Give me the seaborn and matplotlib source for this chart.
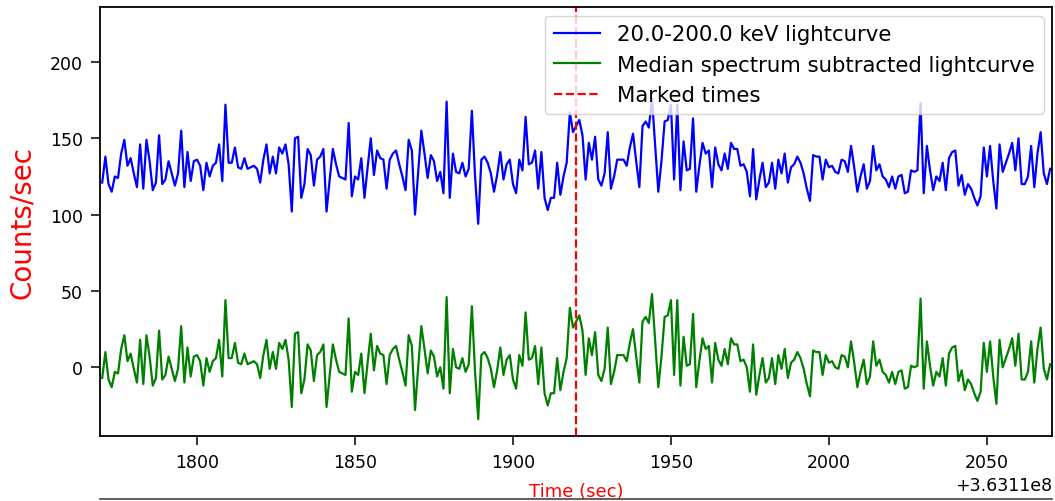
import numpy as np
import pandas as pd
import matplotlib
matplotlib.use("Agg")
import matplotlib.pyplot as plt
from matplotlib.lines import Line2D
import seaborn as sns

# ---- data ----
time_start = 363111770          # first bin time (sec)
time_offset = 363110000         # axis offset shown as +3.6311e8
marked_time = 363111920

lightcurve_counts = [
    121, 138, 120, 115, 125, 124, 140, 149, 132, 137,
    127, 118, 146, 117, 149, 135, 116, 121, 152, 120,
    123, 135, 127, 119, 127, 155, 118, 141, 122, 135,
    136, 132, 116, 134, 125, 132, 134, 146, 122, 172,
    134, 134, 144, 131, 130, 137, 130, 131, 132, 130,
    121, 136, 146, 127, 138, 127, 144, 140, 146, 133,
    102, 150, 151, 111, 120, 143, 139, 119, 136, 138,
    143, 102, 123, 143, 133, 125, 124, 123, 160, 112,
    125, 123, 137, 111, 131, 150, 126, 142, 137, 136,
    117, 136, 140, 142, 133, 125, 116, 149, 142, 100,
    128, 155, 140, 124, 139, 135, 122, 128, 114, 174,
    111, 140, 128, 127, 134, 125, 130, 168, 125, 94,
    136, 138, 134, 127, 115, 126, 141, 123, 133, 136,
    120, 114, 136, 129, 164, 133, 134, 142, 117, 141,
    111, 103, 111, 111, 134, 113, 125, 134, 167, 154,
    158, 162, 152, 123, 147, 136, 151, 123, 119, 127,
    154, 117, 125, 136, 136, 136, 132, 144, 153, 135,
    118, 158, 161, 157, 176, 145, 115, 135, 161, 162,
    172, 123, 172, 116, 148, 129, 130, 163, 115, 132,
    147, 140, 142, 118, 144, 133, 129, 140, 130, 147,
    143, 143, 132, 133, 128, 112, 143, 110, 123, 134,
    118, 121, 134, 117, 136, 127, 140, 121, 131, 133,
    138, 134, 127, 117, 109, 139, 138, 138, 123, 136,
    131, 132, 128, 127, 136, 135, 128, 145, 131, 115,
    125, 133, 117, 122, 145, 129, 133, 125, 123, 118,
    125, 117, 125, 126, 114, 115, 129, 128, 129, 173,
    114, 145, 129, 116, 125, 122, 134, 116, 137, 141,
    142, 119, 126, 113, 120, 117, 111, 106, 112, 144,
    125, 145, 122, 104, 146, 128, 134, 140, 147, 129,
    150, 120, 120, 125, 145, 118, 140, 154, 127, 120,
    130,
]

subtracted_counts = [
    -7, 10, -8, -13, -3, -4, 12, 21, 4, 9,
    -1, -10, 18, -11, 21, 7, -12, -7, 24, -8,
    -5, 7, -1, -9, -1, 27, -10, 13, -6, 7,
    8, 4, -12, 6, -3, 4, 6, 18, -6, 44,
    6, 6, 16, 3, 2, 9, 2, 3, 4, 2,
    -7, 8, 18, -1, 10, -1, 16, 12, 18, 5,
    -26, 22, 23, -17, -8, 15, 11, -9, 8, 10,
    15, -26, -5, 15, 5, -3, -4, -5, 32, -16,
    -3, -5, 9, -17, 3, 22, -2, 14, 9, 8,
    -11, 8, 12, 14, 5, -3, -12, 21, 14, -28,
    0, 27, 12, -4, 11, 7, -6, 0, -14, 46,
    -17, 12, 0, -1, 6, -3, 2, 40, -3, -34,
    8, 10, 6, -1, -13, -2, 13, -5, 5, 8,
    -8, -14, 8, 1, 36, 5, 6, 14, -11, 13,
    -17, -25, -17, -17, 6, -15, -3, 6, 39, 26,
    30, 34, 24, -5, 19, 8, 23, -5, -9, -1,
    26, -11, -3, 8, 8, 8, 4, 16, 25, 7,
    -10, 30, 33, 29, 48, 17, -13, 7, 33, 34,
    44, -5, 44, -12, 20, 1, 2, 35, -13, 4,
    19, 12, 14, -10, 16, 5, 1, 12, 2, 19,
    15, 15, 4, 5, 0, -16, 15, -18, -5, 6,
    -10, -7, 6, -11, 8, -1, 12, -7, 3, 5,
    10, 6, -1, -11, -19, 11, 10, 10, -5, 8,
    3, 4, 0, -1, 8, 7, 0, 17, 3, -13,
    -3, 5, -11, -6, 17, 1, 5, -3, -5, -10,
    -3, -11, -3, -2, -14, -13, 1, 0, 1, 45,
    -14, 17, 1, -12, -3, -6, 6, -12, 9, 13,
    14, -9, -2, -15, -8, -11, -17, -22, -16, 16,
    -3, 17, -6, -24, 18, 0, 6, 12, 19, 1,
    22, -8, -8, -3, 17, -10, 12, 26, -1, -8,
    2,
]

series_labels = ["20.0-200.0 keV lightcurve",
                 "Median spectrum subtracted lightcurve"]
marked_label = "Marked times"

times = time_start + np.arange(len(lightcurve_counts))  # 1 s bins
df = pd.DataFrame({"time": times,
                   "lc": lightcurve_counts,
                   "sub": subtracted_counts})

# ---- figure ----
plt.rcParams["font.family"] = ["DejaVu Sans"]
fig = plt.figure(figsize=(10.55, 5.02), dpi=100)
ax = fig.add_axes([100 / 1055, 1 - 437 / 502, 952 / 1055, 429 / 502])

sns.lineplot(data=df, x="time", y="lc", ax=ax, color="blue", lw=1.6,
             estimator=None, label=series_labels[0])
sns.lineplot(data=df, x="time", y="sub", ax=ax, color="green", lw=1.6,
             estimator=None, label=series_labels[1])
ax.axvline(marked_time, color="red", ls="--", lw=1.6, label=marked_label)

ax.set_xlim(time_start - 0.7, times[-1] + 0.6)
ax.set_ylim(-45, 236)
ax.set_yticks([0, 50, 100, 150, 200])
ax.set_xticks(time_offset + np.array([1800, 1850, 1900, 1950, 2000, 2050]))
ax.ticklabel_format(axis="x", useOffset=time_offset, style="plain")

ax.tick_params(axis="both", labelsize=12.5, length=6.5, width=1.1, pad=6)
ax.xaxis.get_offset_text().set_fontsize(12.5)
for s in ax.spines.values():
    s.set_linewidth(1.3)
    s.set_visible(True)

ax.set_ylabel("Counts/sec", color="red", fontsize=20, labelpad=10)
ax.set_xlabel("Time (sec)", color="red", fontsize=13, labelpad=8)

ax.legend(loc="upper right", fontsize=15.3, framealpha=0.8,
          borderaxespad=0.4, handlelength=2.2, labelspacing=0.5)

fig.add_artist(Line2D([100 / 1055, 1052 / 1055], [0.003, 0.003],
                      color="#444444", lw=1.2, transform=fig.transFigure))

fig.savefig("out.png", dpi=100)
